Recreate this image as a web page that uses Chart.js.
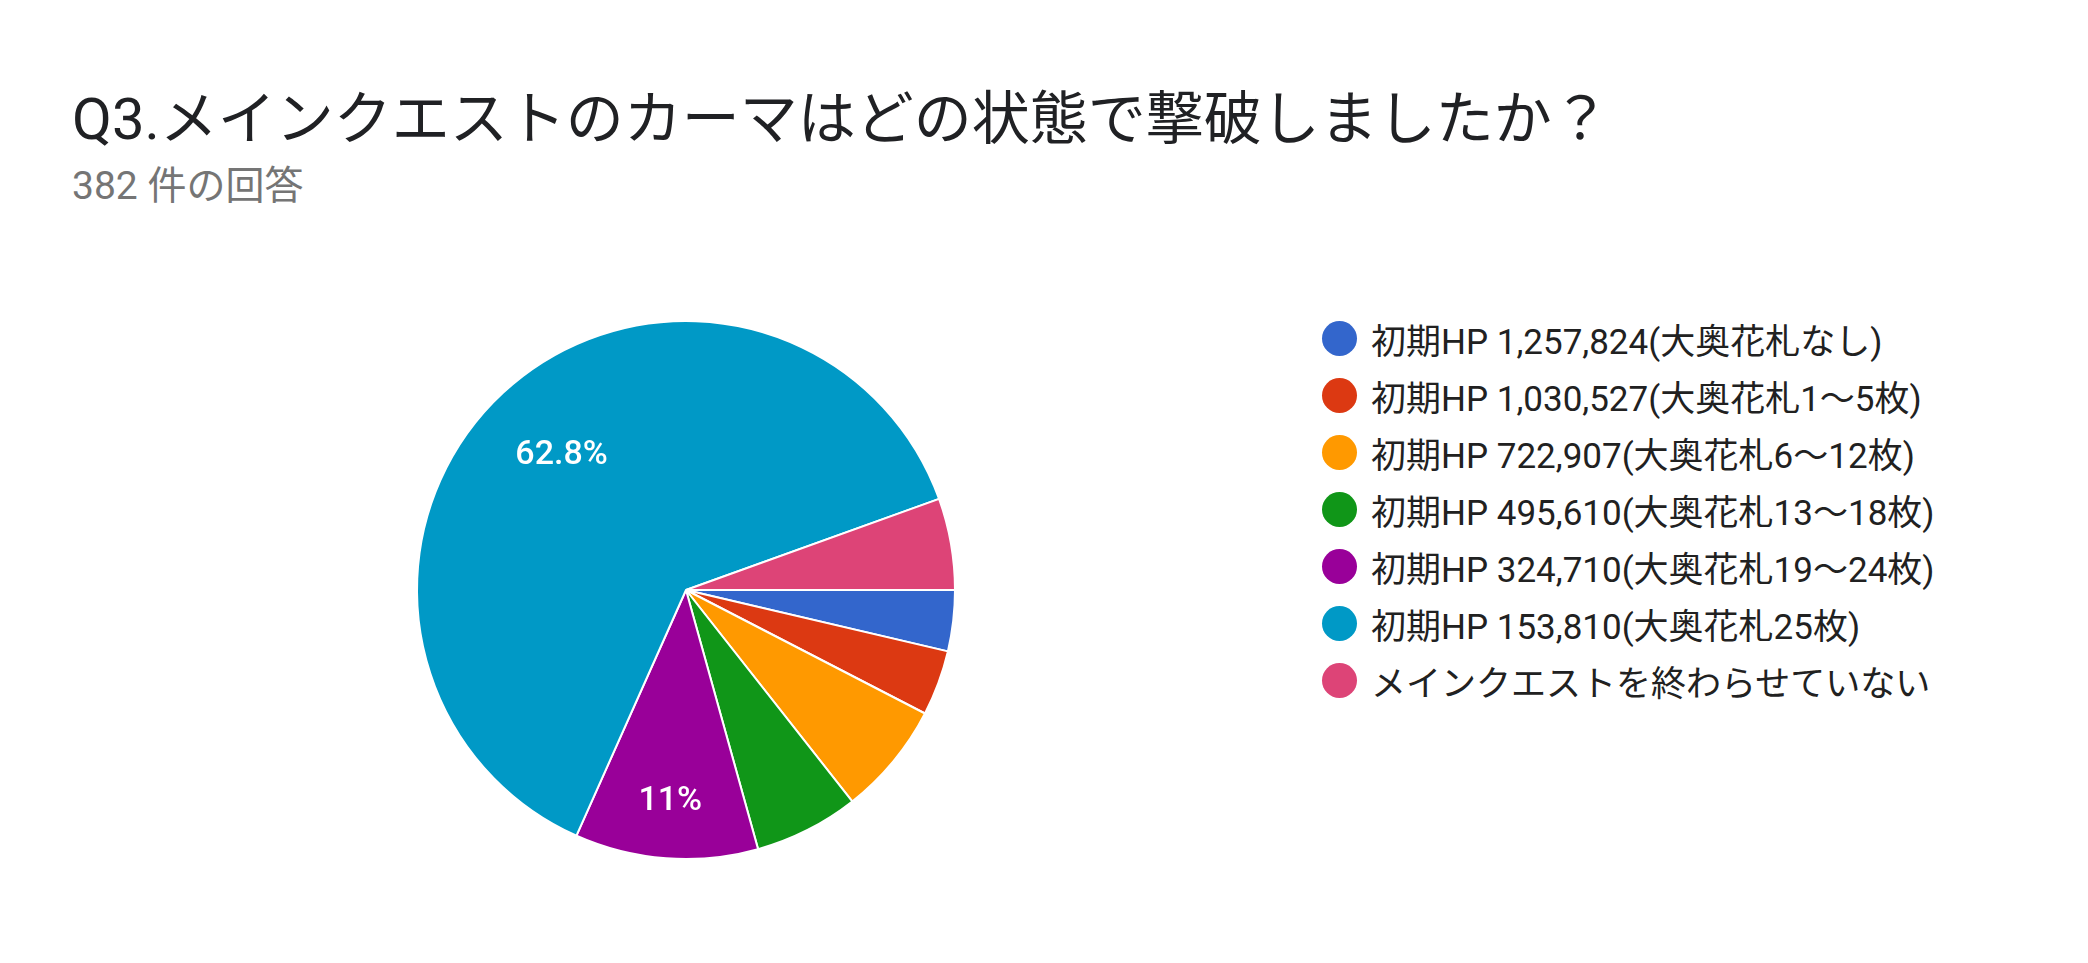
<!DOCTYPE html>
<html><head><meta charset="utf-8">
<script src="https://cdn.jsdelivr.net/npm/chart.js@4"></script>
<style>
body{margin:0;background:#fff;width:2088px;height:963px;overflow:hidden;font-family:Roboto,"Noto Sans CJK JP",sans-serif;position:relative}
#title{position:absolute;left:72px;top:72px;font-size:58px;color:#202124;white-space:nowrap}
#sub{position:absolute;left:72px;top:154px;font-size:39px;color:#757575}
#wrap{position:absolute;left:406px;top:310px;width:560px;height:560px}
#legend{position:absolute;left:1322px;top:310px;font-size:35px;color:#212121}
.li{height:57px;display:flex;align-items:center;white-space:nowrap}
.dot{width:35px;height:35px;border-radius:50%;margin-right:14px}
</style></head><body>
<div id="title">Q3.メインクエストのカーマはどの状態で撃破しましたか？</div>
<div id="sub">382 件の回答</div>
<div id="wrap"><canvas id="c" width="560" height="560"></canvas></div>
<div id="legend"></div>
<script>
const categories=["初期HP 1,257,824(大奥花札なし)","初期HP 1,030,527(大奥花札1〜5枚)","初期HP 722,907(大奥花札6〜12枚)","初期HP 495,610(大奥花札13〜18枚)","初期HP 324,710(大奥花札19〜24枚)","初期HP 153,810(大奥花札25枚)","メインクエストを終わらせていない"];
const counts=[14,15,26,24,42,240,21];
const colors=["#3366cc","#dc3912","#ff9900","#109618","#990099","#0099c6","#dd4477"];
const lg=document.getElementById('legend');
categories.forEach((c,i)=>{lg.innerHTML+=`<div class="li"><div class="dot" style="background:${colors[i]}"></div>${c}</div>`;});
const total=counts.reduce((a,b)=>a+b,0);
const pctPlugin={id:'pct',afterDatasetsDraw(ch){const ctx=ch.ctx;const meta=ch.getDatasetMeta(0);
ctx.save();ctx.fillStyle='#fff';ctx.font='500 34px Roboto, sans-serif';ctx.textAlign='center';ctx.textBaseline='middle';
meta.data.forEach((arc,i)=>{const p=counts[i]/total*100;if(p<10)return;
const a=(arc.startAngle+arc.endAngle)/2,r=arc.outerRadius*(p>50?0.68:0.79);
let t=(Math.round(p*10)/10).toString()+'%';
ctx.fillText(t,arc.x+Math.cos(a)*r,arc.y+Math.sin(a)*r);});ctx.restore();}};
new Chart(document.getElementById('c'),{type:'pie',
data:{labels:categories,datasets:[{data:counts,backgroundColor:colors,borderColor:'#fff',borderWidth:2}]},
options:{responsive:false,animation:false,rotation:90,layout:{padding:10},
plugins:{legend:{display:false},tooltip:{enabled:false}}},plugins:[pctPlugin]});
</script></body></html>
